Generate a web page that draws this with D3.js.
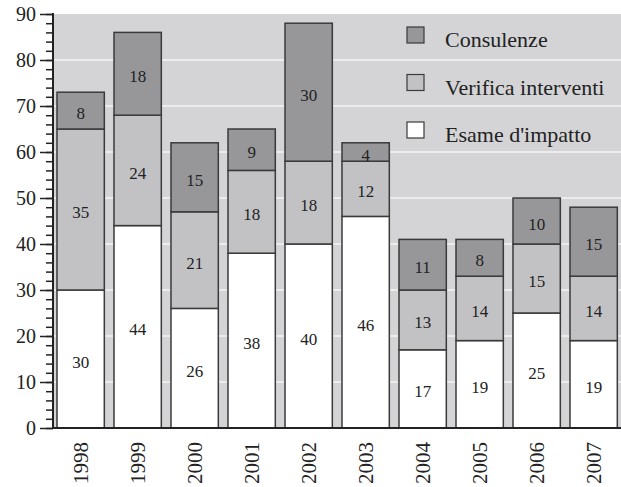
<!DOCTYPE html>
<html>
<head>
<meta charset="utf-8">
<script src="https://cdn.jsdelivr.net/npm/d3@7"></script>
<style>
  body { margin: 0; background: #fff; }
  svg { display: block; font-family: "Liberation Serif", "DejaVu Serif", serif; }
</style>
</head>
<body>
<div id="chart"></div>
<script>
// Data
const years = ["1998", "1999", "2000", "2001", "2002", "2003", "2004", "2005", "2006", "2007"];
const esame = [30, 44, 26, 38, 40, 46, 17, 19, 25, 19];
const verifica = [35, 24, 21, 18, 18, 12, 13, 14, 15, 14];
const consulenze = [8, 18, 15, 9, 30, 4, 11, 8, 10, 15];
const seriesNames = ["Esame d'impatto", "Verifica interventi", "Consulenze"];
const yTicks = [0, 10, 20, 30, 40, 50, 60, 70, 80, 90];

const width = 621, height = 487;
const plot = { left: 53, right: 621, top: 14, bottom: 428 };

const colors = {
  "Esame d'impatto": "#ffffff",
  "Verifica interventi": "#c2c2c5",
  "Consulenze": "#97979a"
};

const rows = years.map((y, i) => ({
  year: y,
  "Esame d'impatto": esame[i],
  "Verifica interventi": verifica[i],
  "Consulenze": consulenze[i]
}));

const stack = d3.stack().keys(seriesNames)(rows);

const svg = d3.select("#chart").append("svg")
  .attr("width", width)
  .attr("height", height);

const x = d3.scaleBand()
  .domain(years)
  .range([plot.left + 4, plot.left + 4 + 57 * (10 - 0.17)])
  .paddingInner(0.17)
  .paddingOuter(0);

const y = d3.scaleLinear()
  .domain([0, 90])
  .range([plot.bottom, plot.top]);

// Plot background
svg.append("rect")
  .attr("x", plot.left)
  .attr("y", plot.top)
  .attr("width", plot.right - plot.left)
  .attr("height", plot.bottom - plot.top)
  .attr("fill", "#d4d4d6");

// White gridlines
svg.append("g")
  .selectAll("line")
  .data(yTicks.slice(1, -1))
  .join("line")
  .attr("x1", plot.left)
  .attr("x2", plot.right)
  .attr("y1", d => y(d))
  .attr("y2", d => y(d))
  .attr("stroke", "#f4f4f4")
  .attr("stroke-width", 1.5);

// Stacked bars
stack.forEach(layer => {
  svg.append("g")
    .selectAll("rect")
    .data(layer)
    .join("rect")
    .attr("x", d => x(d.data.year))
    .attr("y", d => y(d[1]))
    .attr("width", x.bandwidth())
    .attr("height", d => y(d[0]) - y(d[1]))
    .attr("fill", colors[layer.key])
    .attr("stroke", "#3a3a3a")
    .attr("stroke-width", 1.5);
});

// Segment labels
stack.forEach(layer => {
  svg.append("g")
    .selectAll("text")
    .data(layer)
    .join("text")
    .attr("x", d => x(d.data.year) + x.bandwidth() / 2)
    .attr("y", d => y((d[0] + d[1]) / 2))
    .attr("dy", "0.5em")
    .attr("text-anchor", "middle")
    .style("font-size", "17px")
    .style("fill", "#222")
    .text(d => d[1] - d[0]);
});

// Y axis with major and minor ticks
svg.append("g")
  .attr("transform", `translate(${plot.left},0)`)
  .call(d3.axisLeft(y).tickValues(d3.range(0, 91, 2)).tickSize(7).tickFormat(""))
  .call(g => g.select(".domain").remove())
  .call(g => g.selectAll("line").attr("stroke", "#222").attr("stroke-width", 1.5));

svg.append("g")
  .attr("transform", `translate(${plot.left},0)`)
  .call(d3.axisLeft(y).tickValues(yTicks).tickSize(13).tickPadding(4))
  .call(g => g.select(".domain").remove())
  .call(g => g.selectAll("line").attr("stroke", "#222").attr("stroke-width", 1.5))
  .call(g => g.selectAll("text")
    .style("font-family", "Liberation Serif, serif")
    .style("font-size", "20px")
    .style("fill", "#222"));

svg.append("line")
  .attr("x1", plot.left).attr("x2", plot.left)
  .attr("y1", plot.top - 1).attr("y2", plot.bottom)
  .attr("stroke", "#222").attr("stroke-width", 2);

// X axis line
svg.append("line")
  .attr("x1", plot.left).attr("x2", plot.right)
  .attr("y1", plot.bottom).attr("y2", plot.bottom)
  .attr("stroke", "#222").attr("stroke-width", 2);

// Rotated year labels
svg.append("g")
  .selectAll("text")
  .data(years)
  .join("text")
  .attr("transform", d => `translate(${x(d) + x.bandwidth() / 2 + 7},${plot.bottom + 14}) rotate(-90)`)
  .attr("text-anchor", "end")
  .style("font-size", "21px")
  .style("fill", "#222")
  .text(d => d);

// Legend
const legendKeys = ["Consulenze", "Verifica interventi", "Esame d'impatto"];
const legend = svg.append("g")
  .attr("transform", "translate(407,27)");

legendKeys.forEach((k, i) => {
  const item = legend.append("g").attr("transform", `translate(0,${i * 47.5})`);
  item.append("rect")
    .attr("width", 17)
    .attr("height", 16)
    .attr("fill", colors[k])
    .attr("stroke", "#3a3a3a")
    .attr("stroke-width", 1.2);
  item.append("text")
    .attr("x", 38)
    .attr("y", 20)
    .style("font-size", "22px")
    .style("fill", "#222")
    .text(k);
});
</script>
</body>
</html>
